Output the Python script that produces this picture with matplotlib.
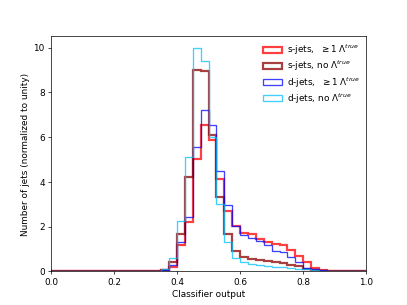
import numpy as np
import matplotlib
matplotlib.use("Agg")
import matplotlib.pyplot as plt

bin_edges = np.linspace(0.0, 1.0, 41)
centers = 0.5 * (bin_edges[:-1] + bin_edges[1:])

# values per bin (0.025 wide), bins 0..39
s_lambda = [0.0]*13 + [0.02, 0.05, 0.19, 1.16, 2.2, 5.0, 6.55, 5.85, 4.14, 2.72, 2.05,
            1.72, 1.66, 1.45, 1.31, 1.24, 1.16, 0.94, 0.71, 0.42, 0.17, 0.07, 0.01, 0.0, 0.0, 0.0, 0.0]
s_nolambda = [0.0]*13 + [0.02, 0.05, 0.42, 1.68, 4.21, 9.0, 8.94, 6.1, 3.32, 1.65, 0.9,
              0.65, 0.55, 0.5, 0.46, 0.42, 0.37, 0.3, 0.25, 0.13, 0.07, 0.04, 0.01, 0.0, 0.0, 0.0, 0.0]
d_lambda = [0.0]*13 + [0.02, 0.05, 0.27, 1.31, 2.42, 5.55, 7.2, 6.55, 4.5, 2.95, 2.02,
            1.62, 1.5, 1.38, 1.16, 0.89, 0.86, 0.64, 0.42, 0.16, 0.1, 0.05, 0.01, 0.0, 0.0, 0.0, 0.0]
d_nolambda = [0.0]*13 + [0.03, 0.12, 0.61, 2.23, 5.1, 10.0, 9.4, 6.0, 3.02, 1.3, 0.62,
              0.42, 0.32, 0.27, 0.24, 0.21, 0.19, 0.16, 0.13, 0.1, 0.07, 0.04, 0.01, 0.0, 0.0, 0.0, 0.0]

series = [
    (s_lambda, r's-jets,  $\geq 1$ $\Lambda^{true}$', '#ff0000', 2.5),
    (s_nolambda, r's-jets, no $\Lambda^{true}$', '#8b0000', 2.5),
    (d_lambda, r'd-jets,  $\geq 1$ $\Lambda^{true}$', '#0000ff', 1.5),
    (d_nolambda, r'd-jets, no $\Lambda^{true}$', '#00bfff', 1.5),
]

fig, ax = plt.subplots(figsize=(6.4, 4.8), dpi=63.6)
for vals, label, color, lw in series:
    ax.hist(centers, bins=bin_edges, weights=vals, histtype='step',
            color=color, linewidth=lw, alpha=0.75, label=label)

ax.set_xlim(0.0, 1.0)
ax.set_ylim(0, 10.5)
ax.set_xlabel('Classifier output')
ax.set_ylabel('Number of jets (normalized to unity)')
ax.legend(loc='upper right', frameon=False, labelspacing=0.2,
          handlelength=2.2, handletextpad=0.5, borderaxespad=0.3)
fig.savefig('out.png', dpi=63.6)
